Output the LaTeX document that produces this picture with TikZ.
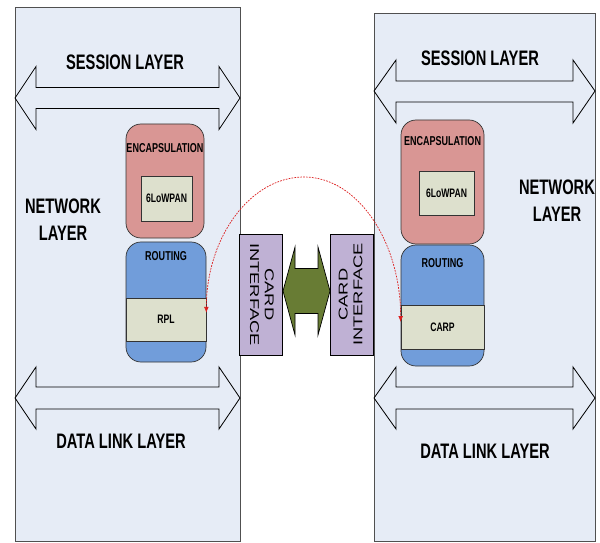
\documentclass[tikz,border=0pt]{standalone}
\usepackage{fontspec}
\usepackage{graphicx}
\usepackage{tikz}
\usetikzlibrary{arrows.meta, positioning}
\setmainfont{Liberation Sans}
\newfontfamily\narrowsf[FakeStretch=0.7]{Liberation Sans}

\definecolor{panelbg}{RGB}{230,236,246}
\definecolor{panelline}{RGB}{80,80,80}
\definecolor{encapred}{RGB}{217,150,148}
\definecolor{lowpan}{RGB}{221,224,205}
\definecolor{routeblue}{RGB}{113,157,218}
\definecolor{cardpurple}{RGB}{191,177,212}
\definecolor{arrowgreen}{RGB}{104,124,52}
\definecolor{linkred}{RGB}{220,30,30}

\begin{document}
\begin{tikzpicture}[
    x=0.03cm, y=-0.03cm,
    panel/.style={rectangle, draw=panelline, fill=panelbg, line width=0.8pt, inner sep=0pt},
    layerarrow/.style={draw=black, line width=0.7pt},
    blockbox/.style={rectangle, rounded corners=0.45cm, draw=black!80, line width=0.6pt, inner sep=0pt},
    bandbox/.style={rectangle, draw=black!80, fill=lowpan, line width=0.6pt, inner sep=0pt, font=\narrowsf\bfseries\fontsize{10.5}{12}\selectfont},
    bigtext/.style={font=\narrowsf\bfseries\fontsize{17.9}{23}\selectfont, align=center},
    midtext/.style={font=\narrowsf\bfseries\fontsize{11}{13}\selectfont},
    cardbox/.style={rectangle, draw=black, fill=cardpurple, line width=0.6pt, minimum width=3.63cm, minimum height=1.29cm, inner sep=0pt, font=\fontsize{15.6}{18.2}\selectfont},
    link/.style={draw=linkred, line width=0.6pt, dash pattern=on 1.5pt off 1pt, {Latex[length=5pt,width=4pt]}-{Latex[length=5pt,width=4pt]}}
]
    \useasboundingbox (0,0) rectangle (600,543);

    % Protocol stacks
    \node[panel, minimum width=6.75cm, minimum height=16.02cm] (lstack) at (127.5,274) {};
    \node[panel, minimum width=6.63cm, minimum height=15.84cm] (rstack) at (484.5,277) {};

    % Layer arrows
    \draw[layerarrow] (15,98) -- (36,66.5) -- (36,87.5) -- (219,87.5) -- (219,66.5) -- (240,98)
        -- (219,129.5) -- (219,108.5) -- (36,108.5) -- (36,129.5) -- cycle;
    \draw[layerarrow] (374,91) -- (396,60) -- (396,81) -- (573,81) -- (573,60) -- (595,91)
        -- (573,123) -- (573,102) -- (396,102) -- (396,123) -- cycle;
    \draw[layerarrow] (15,398) -- (36,367) -- (36,387) -- (219,387) -- (219,367) -- (240,398)
        -- (219,429) -- (219,409) -- (36,409) -- (36,429) -- cycle;
    \draw[layerarrow] (374,398) -- (396,367) -- (396,387) -- (573,387) -- (573,367) -- (595,398)
        -- (573,429) -- (573,409) -- (396,409) -- (396,429) -- cycle;

    % Left stack
    \node[blockbox, fill=encapred, minimum width=2.34cm, minimum height=3.42cm] (lencap) at (165,181) {};
    \node[midtext] (lencaptext) at ([yshift=-0.72cm]lencap.north) {ENCAPSULATION};
    \node[bandbox, minimum width=1.53cm, minimum height=1.35cm] (llowpan) at (166.5,198.5) {6LoWPAN};
    \node[blockbox, fill=routeblue, minimum width=2.4cm, minimum height=3.6cm] (lroute) at (166,302) {};
    \node[midtext] (lroutetext) at ([yshift=-0.42cm]lroute.north) {ROUTING};
    \node[bandbox, minimum width=2.4cm, minimum height=1.29cm] (lrpl) at (166,319.5) {RPL};

    % Right stack
    \node[blockbox, fill=encapred, minimum width=2.49cm, minimum height=3.72cm] (rencap) at (442.5,182) {};
    \node[midtext] (rencaptext) at ([yshift=-0.63cm]rencap.north) {ENCAPSULATION};
    \node[bandbox, minimum width=1.65cm, minimum height=1.32cm] (rlowpan) at (446.5,193) {6LoWPAN};
    \node[blockbox, fill=routeblue, minimum width=2.49cm, minimum height=3.63cm] (rroute) at (442.5,305.5) {};
    \node[midtext] (rroutetext) at ([yshift=-0.54cm]rroute.north) {ROUTING};
    \node[bandbox, minimum width=2.49cm, minimum height=1.32cm] (rcarp) at (442.5,327) {CARP};

    % Layer names
    \node[bigtext] (lsession) at (125,62) {SESSION LAYER};
    \node[bigtext] (rsession) at (480,58) {SESSION LAYER};
    \node[bigtext] (lnetwork) at (63,219.5) {NETWORK\\LAYER};
    \node[bigtext] (rnetwork) at (557,200.5) {NETWORK\\LAYER};
    \node[bigtext] (llink) at (121,441) {DATA LINK LAYER};
    \node[bigtext] (rlink) at (485,451) {DATA LINK LAYER};

    % Card interfaces
    \node[cardbox, rotate=-90] (lcard) at (260.5,294.5)
        {\scalebox{1}[0.7]{\begin{tabular}{@{}c@{}}CARD\\INTERFACE\end{tabular}}};
    \node[cardbox, rotate=90] (rcard) at (352,294.5)
        {\scalebox{1}[0.7]{\begin{tabular}{@{}c@{}}CARD\\INTERFACE\end{tabular}}};
    \draw[fill=arrowgreen, draw=black, line width=0.6pt] (283,291) -- (295,247) -- (295,268.5)
        -- (318,268.5) -- (318,247) -- (330,291) -- (318,335) -- (318,313.5) -- (295,313.5)
        -- (295,335) -- cycle;

    % Routing link
    \coordinate (linktop) at (304,177);
    \draw[link] ([yshift=0.2cm]lrpl.east) .. controls +(0,-75) and +(-54,0) .. (linktop)
        .. controls +(54,0) and +(0,-80) .. ([yshift=0.15cm]rcarp.west);
\end{tikzpicture}
\end{document}
